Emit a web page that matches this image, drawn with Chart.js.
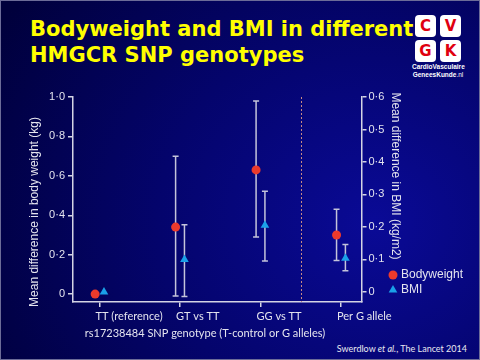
<!DOCTYPE html>
<html>
<head>
<meta charset="utf-8">
<script src="https://cdn.jsdelivr.net/npm/chart.js@4.4.1/dist/chart.umd.min.js"></script>
<style>
  html, body { margin: 0; padding: 0; }
  body {
    width: 480px; height: 360px; overflow: hidden; position: relative;
    background: radial-gradient(ellipse 90% 110% at 78% 62%, #0a0a96 0%, #04046c 50%, #00003c 100%);
  }
  #frame { position: absolute; left: 0; top: 0; width: 478px; height: 358px; border: 1px solid #6c6c98; }
  #title {
    position: absolute; left: 30px; top: 16px; color: #ffff00;
    font: bold 21px "DejaVu Sans", sans-serif; line-height: 26px; white-space: nowrap;
  }
  .sq {
    position: absolute; width: 21px; height: 22px; background: #fff; border-radius: 4px;
    color: #e00010; font: bold 15px "DejaVu Sans", sans-serif; text-align: center; line-height: 22px;
  }
  #logoText {
    position: absolute; left: 412px; top: 63px; width: 52px; text-align: center;
    color: #fff; font: bold 6.5px "Liberation Sans Narrow", "Liberation Sans", sans-serif; line-height: 8px;
  }
  #logoText span { font-weight: normal; }
  #cite {
    position: absolute; right: 13px; top: 343px; color: #e8e8f0;
    font: 9px Lato, sans-serif; white-space: nowrap;
  }
  canvas { position: absolute; left: 0; top: 0; }
</style>
</head>
<body>
<div id="frame"></div>
<div id="title">Bodyweight and BMI in different<br>HMGCR SNP genotypes</div>
<div class="sq" style="left:415px;top:15px">C</div>
<div class="sq" style="left:440px;top:15px">V</div>
<div class="sq" style="left:415px;top:40px">G</div>
<div class="sq" style="left:440px;top:40px">K</div>
<div id="logoText">CardioVasculaire<br>GeneesKunde<span>.nl</span></div>
<div id="cite">Swerdlow <i>et al.</i>, The Lancet 2014</div>
<canvas id="myChart" width="480" height="360"></canvas>
<script>
// values
const categories = ['TT (reference)', 'GT vs TT', 'GG vs TT', 'Per G allele'];
const bodyweightMean = [0, 0.34, 0.63, 0.30];
const bodyweightLow = [null, -0.01, 0.29, 0.17];
const bodyweightHigh = [null, 0.70, 0.98, 0.43];
const bmiMean = [0, 0.10, 0.205, 0.104];
const bmiLow = [null, -0.014, 0.095, 0.065];
const bmiHigh = [null, 0.207, 0.31, 0.146];
const weightTicks = [0, 0.2, 0.4, 0.6, 0.8, 1.0];
const bmiTicks = [0, 0.1, 0.2, 0.3, 0.4, 0.5, 0.6];
const dividerAt = 2.5;

const shift = 0.055;
const axisColor = '#d4d4e4';
const barColor = '#c4c4da';
const textColor = '#e4e4ee';
const red = '#ec3a2c';
const blue = '#1aa0e8';

function fmt(v) {
  if (v === 0) return '0';
  return v.toFixed(1).replace('.', '\u00b7');
}

const extras = {
  id: 'extras',
  beforeDatasetsDraw(chart) {
    const ctx = chart.ctx;
    const xs = chart.scales.x;
    const area = chart.chartArea;
    ctx.save();
    // dotted divider
    ctx.strokeStyle = '#c88a84';
    ctx.lineWidth = 1;
    ctx.setLineDash([2, 2]);
    const dx = Math.round(xs.getPixelForValue(dividerAt)) + 0.5;
    ctx.beginPath();
    ctx.moveTo(dx, area.top);
    ctx.lineTo(dx, area.bottom);
    ctx.stroke();
    ctx.setLineDash([]);
    // error bars
    ctx.strokeStyle = barColor;
    ctx.lineWidth = 1.5;
    const bars = [
      [bodyweightLow, bodyweightHigh, -shift, chart.scales.y],
      [bmiLow, bmiHigh, shift, chart.scales.y1]
    ];
    bars.forEach(([lo, hi, off, ys]) => {
      categories.forEach((c, i) => {
        if (lo[i] === null) return;
        const x = xs.getPixelForValue(i + off);
        const y1 = ys.getPixelForValue(lo[i]);
        const y2 = ys.getPixelForValue(hi[i]);
        ctx.beginPath();
        ctx.moveTo(x, y1); ctx.lineTo(x, y2);
        ctx.moveTo(x - 3, y1); ctx.lineTo(x + 3, y1);
        ctx.moveTo(x - 3, y2); ctx.lineTo(x + 3, y2);
        ctx.stroke();
      });
    });
    ctx.restore();
  },
  afterDraw(chart) {
    const ctx = chart.ctx;
    ctx.save();
    ctx.fillStyle = textColor;
    ctx.font = '12px "Liberation Sans", sans-serif';
    ctx.textAlign = 'center';
    ctx.textBaseline = 'middle';
    // left axis title
    ctx.save();
    ctx.translate(35, 212);
    ctx.rotate(-Math.PI / 2);
    ctx.fillText('Mean difference in body weight (kg)', 0, 0);
    ctx.restore();
    // right axis title
    ctx.save();
    ctx.translate(395, 176);
    ctx.rotate(Math.PI / 2);
    ctx.fillText('Mean difference in BMI (kg/m2)', 0, 0);
    ctx.restore();
    // x axis title
    ctx.font = '11px Lato, sans-serif';
    ctx.fillText('rs17238484 SNP genotype (T-control or G alleles)', 205, 333);
    // legend
    ctx.textAlign = 'left';
    ctx.font = '12px "Liberation Sans", sans-serif';
    chart.data.datasets.forEach((ds, k) => {
      const y = 275 + k * 15;
      ctx.fillStyle = ds.backgroundColor;
      Chart.helpers.drawPoint(ctx, {
        pointStyle: ds.pointStyle, radius: ds.pointRadius, borderWidth: 0
      }, 393, y);
      ctx.fillStyle = textColor;
      ctx.fillText(ds.label, 401, y);
    });
    ctx.restore();
  }
};

new Chart(document.getElementById('myChart').getContext('2d'), {
  type: 'scatter',
  data: {
    datasets: [
      {
        label: 'Bodyweight',
        data: bodyweightMean.map((v, i) => ({ x: i - shift, y: v })),
        yAxisID: 'y',
        pointStyle: 'circle',
        pointRadius: 4.5,
        backgroundColor: red,
        borderColor: red,
        borderWidth: 0
      },
      {
        label: 'BMI',
        data: bmiMean.map((v, i) => ({ x: i + shift, y: v })),
        yAxisID: 'y1',
        pointStyle: 'triangle',
        pointRadius: 5,
        backgroundColor: blue,
        borderColor: blue,
        borderWidth: 0
      }
    ]
  },
  options: {
    responsive: false,
    animation: false,
    layout: { padding: { top: 97, left: 0, right: 0, bottom: 0 } },
    plugins: { legend: { display: false }, tooltip: { enabled: false } },
    scales: {
      x: {
        type: 'linear',
        min: -0.33,
        max: 3.255,
        afterBuildTicks: s => { s.ticks = categories.map((c, i) => ({ value: i })); },
        afterFit: s => { s.height = 58; },
        ticks: {
          callback: v => categories[v],
          color: textColor,
          font: { family: 'Lato', size: 11 },
          padding: 3,
          align: 'start',
          labelOffset: -4,
          maxRotation: 0,
          autoSkip: false
        },
        grid: { drawOnChartArea: false, tickLength: 5, color: axisColor, lineWidth: 1.5 },
        border: { color: axisColor, width: 1.5 }
      },
      y: {
        position: 'left',
        min: -0.04,
        max: 1.0,
        afterBuildTicks: s => { s.ticks = weightTicks.map(v => ({ value: v })); },
        afterFit: s => { s.width = 73; },
        ticks: {
          callback: v => fmt(v),
          color: textColor,
          font: { family: 'Liberation Sans', size: 11 },
          padding: 3
        },
        grid: { drawOnChartArea: false, tickLength: 5, color: axisColor, lineWidth: 1.5 },
        border: { color: axisColor, width: 1.5 }
      },
      y1: {
        position: 'right',
        min: -0.031,
        max: 0.6,
        afterBuildTicks: s => { s.ticks = bmiTicks.map(v => ({ value: v })); },
        afterFit: s => { s.width = 118.5; },
        ticks: {
          callback: v => fmt(v),
          color: textColor,
          font: { family: 'Liberation Sans', size: 11 },
          padding: 2
        },
        grid: { drawOnChartArea: false, tickLength: 5, color: axisColor, lineWidth: 1.5 },
        border: { color: axisColor, width: 1.5 }
      }
    }
  },
  plugins: [extras]
});
</script>
</body>
</html>
